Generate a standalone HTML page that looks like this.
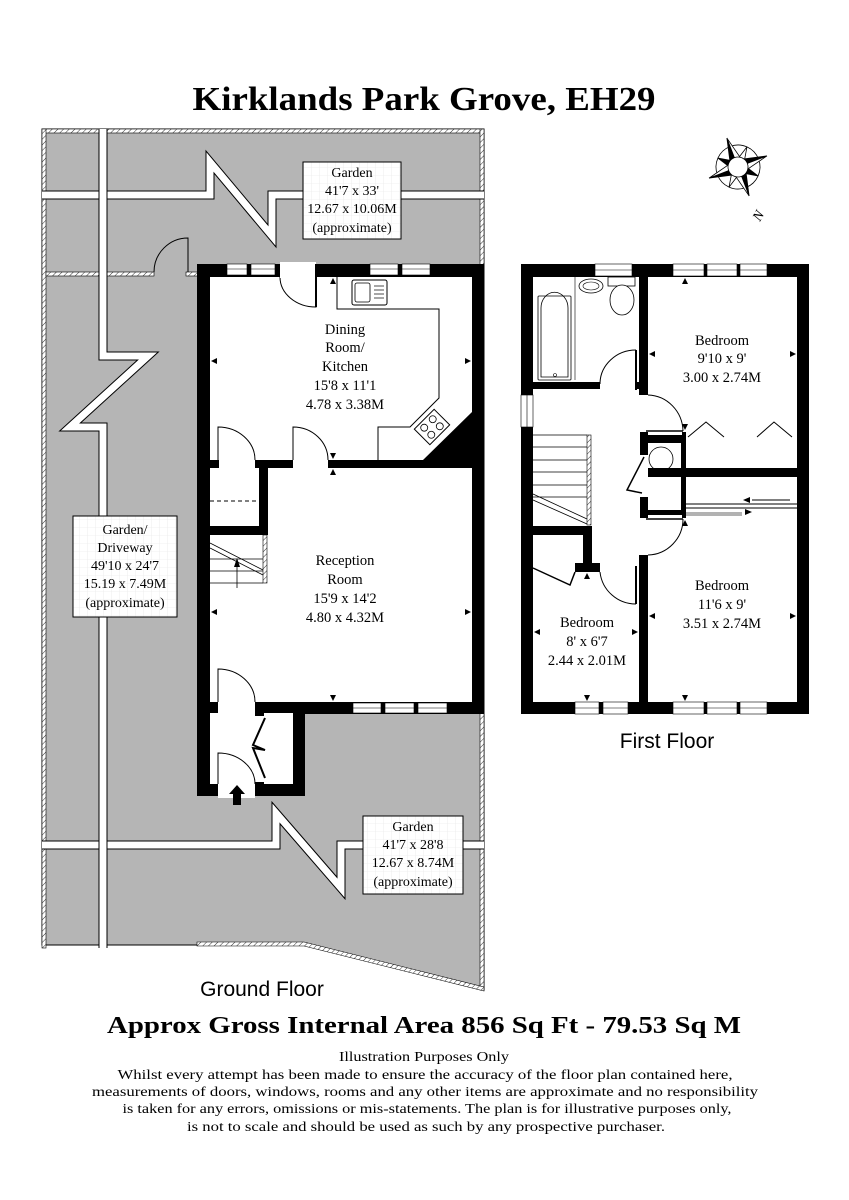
<!DOCTYPE html>
<html><head><meta charset="utf-8"><style>
html,body{margin:0;padding:0;background:#fff;}
svg{display:block;}
text{font-family:"Liberation Serif",serif;fill:#000;}
</style></head><body>
<svg width="849" height="1200" viewBox="0 0 849 1200" xmlns="http://www.w3.org/2000/svg">
<defs>
<pattern id="h" width="4" height="4" patternUnits="userSpaceOnUse" patternTransform="rotate(45)">
<rect width="4" height="4" fill="#fff"/><line x1="0" y1="0" x2="0" y2="4" stroke="#000" stroke-width="0.8"/></pattern>
<pattern id="g" width="8" height="8" patternUnits="userSpaceOnUse"><rect width="8" height="8" fill="#fff"/><path d="M8 0V8H0" fill="none" stroke="#e4e4e4" stroke-width="0.6"/></pattern>
</defs>
<rect width="849" height="1200" fill="#fff"/>
<text x="424" y="110" text-anchor="middle" font-size="34" font-weight="bold" textLength="463" lengthAdjust="spacingAndGlyphs">Kirklands Park Grove, EH29</text>

<!-- GROUND garden -->
<path d="M42 129H484V990L304 945H42Z" fill="#b5b5b5" stroke="#000" stroke-width="1"/>
<rect x="42" y="129" width="442" height="4" fill="url(#h)" stroke="#000" stroke-width="0.6"/>
<rect x="42" y="129" width="4" height="819" fill="url(#h)" stroke="#000" stroke-width="0.6"/>
<rect x="480" y="129" width="4" height="861" fill="url(#h)" stroke="#000" stroke-width="0.6"/>
<polygon points="197,942 304,942 484,987 484,991 304,946 197,946" fill="url(#h)" stroke="#000" stroke-width="0.6"/>
<rect x="46" y="272" width="108" height="4" fill="url(#h)" stroke="#000" stroke-width="0.6"/>
<rect x="186" y="272" width="12" height="4" fill="url(#h)" stroke="#000" stroke-width="0.6"/>
<path d="M188 272V238 A34 34 0 0 0 154 272" fill="none" stroke="#000" stroke-width="1"/>
<g fill="none" stroke-linejoin="miter">
<polyline points="42,195 210,195 210,162 272,236 272,195 484,195" stroke="#000" stroke-width="9"/>
<polyline points="42,195 210,195 210,162 272,236 272,195 484,195" stroke="#fff" stroke-width="7"/>
<polyline points="42,845 276,845 276,813 341,888 341,845 484,845" stroke="#000" stroke-width="9"/>
<polyline points="42,845 276,845 276,813 341,888 341,845 484,845" stroke="#fff" stroke-width="7"/>
<polyline points="103,129 103,356 148,356 70,427 103,427 103,948" stroke="#000" stroke-width="9"/>
<polyline points="103,129 103,356 148,356 70,427 103,427 103,948" stroke="#fff" stroke-width="7"/>
</g>

<!-- house ground floor -->
<rect x="197" y="264" width="287" height="450" fill="#000"/>
<rect x="197" y="713" width="108" height="83" fill="#000"/>
<rect x="210" y="277" width="262" height="183" fill="#fff"/>
<rect x="210" y="468" width="262" height="234" fill="#fff"/>
<rect x="219" y="458" width="36" height="12" fill="#fff"/>
<rect x="293" y="458" width="35" height="12" fill="#fff"/>
<rect x="259" y="468" width="9" height="65" fill="#000"/>
<rect x="210" y="526" width="58" height="9" fill="#000"/>
<line x1="210" y1="501" x2="259" y2="501" stroke="#000" stroke-dasharray="4,3"/>
<rect x="263" y="535" width="4" height="48" fill="url(#h)" stroke="#000" stroke-width="0.6"/>
<g stroke="#000" stroke-width="0.8">
<line x1="210" y1="559" x2="263" y2="559"/><line x1="210" y1="571" x2="263" y2="571"/><line x1="210" y1="583" x2="263" y2="583"/>
<line x1="210" y1="543" x2="263" y2="570"/><line x1="210" y1="548" x2="263" y2="575"/>
<line x1="237" y1="588" x2="237" y2="564"/></g>
<polygon points="234,567 240,567 237,558" fill="#000"/>
<rect x="210" y="713" width="42" height="71" fill="#fff"/>
<rect x="264" y="713" width="29" height="71" fill="#fff"/>
<rect x="218" y="700" width="37" height="16" fill="#fff"/>
<rect x="218" y="782" width="37" height="16" fill="#fff"/>
<rect x="250" y="716" width="16" height="66" fill="#fff"/>
<g fill="none" stroke="#000" stroke-width="1">
<path d="M218 702V669 A37 33 0 0 1 255 702"/>
<path d="M218 784V753 A37 31 0 0 1 255 784"/>
<polyline points="265,718 253,745 265,750 253,748 265,778" stroke-width="2"/>
<path d="M218 460V427 A37 33 0 0 1 255 460"/>
<path d="M293 460V427 A35 33 0 0 1 328 460"/>
<path d="M316 277V307 A36 30 0 0 1 280 277"/>
<polyline points="337,277 337,309 439,309 439,398 410,427 378,427 378,460"/>
</g>
<rect x="280" y="262" width="36" height="16" fill="#fff"/>
<line x1="316" y1="264" x2="316" y2="307" stroke="#000" stroke-width="2"/>
<polygon points="472,412 472,460 423,460" fill="#000"/>
<rect x="352" y="280" width="35" height="25" rx="2" fill="#fff" stroke="#000"/>
<rect x="355" y="283" width="15" height="19" rx="2" fill="none" stroke="#000" stroke-width="0.8"/>
<g stroke="#000" stroke-width="0.7"><line x1="374" y1="286" x2="384" y2="286"/><line x1="374" y1="290" x2="384" y2="290"/><line x1="374" y1="294" x2="384" y2="294"/><line x1="374" y1="298" x2="384" y2="298"/></g>
<g transform="translate(432,427) rotate(-45)"><rect x="-14" y="-11" width="28" height="22" fill="#fff" stroke="#000"/>
<circle cx="-6" cy="-5" r="3.5" fill="none" stroke="#000" stroke-width="0.8"/><circle cx="6" cy="-5" r="3.5" fill="none" stroke="#000" stroke-width="0.8"/><circle cx="-6" cy="5" r="3.5" fill="none" stroke="#000" stroke-width="0.8"/><circle cx="6" cy="5" r="3.5" fill="none" stroke="#000" stroke-width="0.8"/></g>
<g fill="#fff" stroke="#000" stroke-width="0.6">
<rect x="227" y="264" width="20" height="11"/><rect x="251" y="264" width="24" height="11"/>
<rect x="370" y="264" width="28" height="11"/><rect x="402" y="264" width="28" height="11"/>
<rect x="353" y="703" width="28" height="10"/><rect x="385" y="703" width="29" height="10"/><rect x="418" y="703" width="29" height="10"/>
</g>
<g stroke="#000" stroke-width="0.6"><line x1="227" y1="269" x2="275" y2="269"/><line x1="370" y1="269" x2="430" y2="269"/><line x1="353" y1="708" x2="447" y2="708"/></g>
<polygon points="237,785 245,794 241,794 241,805 233,805 233,794 229,794" fill="#000"/>
<g fill="#000"><polygon points="211,361 217,358 217,364"/><polygon points="471,361 465,358 465,364"/><polygon points="211,612 217,609 217,615"/><polygon points="471,612 465,609 465,615"/><polygon points="333,278 330,284 336,284"/><polygon points="333,459 330,453 336,453"/><polygon points="333,469 330,475 336,475"/><polygon points="333,701 330,695 336,695"/></g>

<g font-size="14.5" text-anchor="middle">
<text x="345" y="334">Dining</text><text x="345" y="352">Room/</text><text x="345" y="371">Kitchen</text><text x="345" y="390">15'8 x 11'1</text><text x="345" y="409">4.78 x 3.38M</text>
<text x="345" y="565">Reception</text><text x="345" y="584">Room</text><text x="345" y="603">15'9 x 14'2</text><text x="345" y="622">4.80 x 4.32M</text>
</g>
<rect x="303" y="162" width="98" height="77" fill="url(#g)" stroke="#000" stroke-width="1"/>
<rect x="73" y="516" width="104" height="101" fill="url(#g)" stroke="#000" stroke-width="1"/>
<rect x="363" y="816" width="100" height="78" fill="url(#g)" stroke="#000" stroke-width="1"/>
<g font-size="14" text-anchor="middle">
<text x="352" y="177">Garden</text><text x="352" y="195">41'7 x 33'</text><text x="352" y="213">12.67 x 10.06M</text><text x="352" y="232">(approximate)</text>
<text x="125" y="534">Garden/</text><text x="125" y="552">Driveway</text><text x="125" y="570">49'10 x 24'7</text><text x="125" y="588">15.19 x 7.49M</text><text x="125" y="607">(approximate)</text>
<text x="413" y="831">Garden</text><text x="413" y="849">41'7 x 28'8</text><text x="413" y="867">12.67 x 8.74M</text><text x="413" y="886">(approximate)</text>
</g>
<text x="262" y="996" font-size="21" text-anchor="middle" style="font-family:'Liberation Sans',sans-serif">Ground Floor</text>

<!-- FIRST FLOOR -->
<rect x="521" y="264" width="288" height="450" fill="#000"/>
<rect x="533" y="277" width="106" height="105" fill="#fff"/>
<rect x="533" y="389" width="106" height="137" fill="#fff"/>
<rect x="600" y="380" width="36" height="12" fill="#fff"/>
<rect x="648" y="277" width="149" height="191" fill="#fff"/>
<rect x="686" y="477" width="111" height="225" fill="#fff"/>
<rect x="648" y="518" width="38" height="184" fill="#fff"/>
<rect x="592" y="389" width="47" height="313" fill="#fff"/>
<rect x="533" y="535" width="50" height="167" fill="#fff"/>
<rect x="583" y="572" width="56" height="130" fill="#fff"/>
<rect x="600" y="560" width="39" height="14" fill="#fff"/>
<rect x="639" y="395" width="10" height="160" fill="#fff"/>
<rect x="640" y="432" width="46" height="86" fill="#000"/>
<rect x="648" y="443" width="33" height="67" fill="#fff"/>
<rect x="638" y="455" width="12" height="42" fill="#fff"/>
<circle cx="661" cy="459" r="12" fill="none" stroke="#000" stroke-width="0.8"/>
<polyline points="644,457 627,490 642,493" fill="none" stroke="#000" stroke-width="1.5"/>
<rect x="648" y="468" width="149" height="9" fill="#000"/>
<rect x="648" y="432" width="34" height="3" fill="#fff"/>
<rect x="648" y="515" width="34" height="3" fill="#fff"/>
<line x1="646" y1="431" x2="683" y2="431" stroke="#000" stroke-width="1.5"/>
<line x1="646" y1="519" x2="683" y2="519" stroke="#000" stroke-width="1.5"/>
<rect x="521" y="395" width="12" height="32" fill="#fff" stroke="#000" stroke-width="0.6"/>
<line x1="527" y1="395" x2="527" y2="427" stroke="#000" stroke-width="0.6"/>
<rect x="587" y="435" width="4" height="90" fill="url(#h)" stroke="#000" stroke-width="0.6"/>
<g stroke="#000" stroke-width="0.8">
<line x1="533" y1="435" x2="587" y2="435"/><line x1="533" y1="447" x2="587" y2="447"/><line x1="533" y1="460" x2="587" y2="460"/><line x1="533" y1="472" x2="587" y2="472"/><line x1="533" y1="485" x2="587" y2="485"/><line x1="533" y1="497" x2="587" y2="497"/>
<line x1="533" y1="494" x2="587" y2="519"/><line x1="533" y1="500" x2="587" y2="524"/></g>
<rect x="533" y="526" width="57" height="9" fill="#000"/>
<rect x="583" y="526" width="9" height="46" fill="#000"/>
<rect x="575" y="563" width="25" height="9" fill="#000"/>
<polyline points="533,568 570,585 575,572" fill="none" stroke="#000" stroke-width="1.5"/>
<g fill="none" stroke="#000" stroke-width="1">
<path d="M600 384 A36 34 0 0 1 636 350"/>
<path d="M648 395 A36 37 0 0 1 683 431"/>
<path d="M683 519 A36 36 0 0 1 648 555"/>
<path d="M600 572 A36 36 0 0 0 636 604"/>
<polyline points="688,437 706,422 724,437"/><polyline points="757,437 774,422 792,437"/>
<line x1="686" y1="504" x2="797" y2="504"/><line x1="686" y1="508" x2="797" y2="508"/>
<line x1="686" y1="513" x2="742" y2="513" stroke="#666"/><line x1="686" y1="515" x2="742" y2="515" stroke="#666"/>
<line x1="752" y1="500" x2="790" y2="500"/>
</g>
<line x1="636" y1="350" x2="636" y2="390" stroke="#000" stroke-width="2"/>
<line x1="636" y1="566" x2="636" y2="604" stroke="#000" stroke-width="2"/>
<polygon points="743,500 750,497 750,503" fill="#000"/><polygon points="752,512 745,509 745,515" fill="#000"/>
<rect x="538" y="296" width="33" height="84" rx="1" fill="#fff" stroke="#000" stroke-width="0.8"/>
<path d="M541 377V308 A12 14 0 0 1 568 308V377Z" fill="none" stroke="#000" stroke-width="0.8"/>
<circle cx="555" cy="375" r="1.5" fill="none" stroke="#000" stroke-width="0.6"/>
<line x1="575" y1="277" x2="575" y2="380" stroke="#000" stroke-width="0.6"/>
<ellipse cx="591" cy="286" rx="12" ry="7" fill="#fff" stroke="#000" stroke-width="0.8"/>
<ellipse cx="591" cy="286" rx="8" ry="4" fill="none" stroke="#000" stroke-width="0.6"/>
<rect x="608" y="277" width="27" height="9" fill="#fff" stroke="#000" stroke-width="0.8"/>
<ellipse cx="622" cy="300" rx="12" ry="15" fill="#fff" stroke="#000" stroke-width="0.8"/>
<g fill="#fff" stroke="#000" stroke-width="0.6">
<rect x="595" y="264" width="37" height="12"/>
<rect x="673" y="264" width="31" height="12"/><rect x="707" y="264" width="30" height="12"/><rect x="740" y="264" width="27" height="12"/>
<rect x="575" y="702" width="24" height="12"/><rect x="603" y="702" width="25" height="12"/>
<rect x="673" y="702" width="31" height="12"/><rect x="707" y="702" width="30" height="12"/><rect x="740" y="702" width="27" height="12"/>
</g>
<g stroke="#000" stroke-width="0.6"><line x1="595" y1="270" x2="632" y2="270"/><line x1="673" y1="270" x2="767" y2="270"/><line x1="575" y1="708" x2="628" y2="708"/><line x1="673" y1="708" x2="767" y2="708"/></g>
<g fill="#000"><polygon points="649,354 655,351 655,357"/><polygon points="796,354 790,351 790,357"/><polygon points="685,278 682,284 688,284"/><polygon points="685,430 682,424 688,424"/>
<polygon points="649,616 655,613 655,619"/><polygon points="796,616 790,613 790,619"/><polygon points="685,520 682,526 688,526"/><polygon points="685,701 682,695 688,695"/>
<polygon points="534,632 540,629 540,635"/><polygon points="638,632 632,629 632,635"/><polygon points="587,573 584,579 590,579"/><polygon points="587,701 584,695 590,695"/></g>
<g font-size="14.5" text-anchor="middle">
<text x="722" y="345">Bedroom</text><text x="722" y="363">9'10 x 9'</text><text x="722" y="382">3.00 x 2.74M</text>
<text x="722" y="590">Bedroom</text><text x="722" y="609">11'6 x 9'</text><text x="722" y="628">3.51 x 2.74M</text>
<text x="587" y="627">Bedroom</text><text x="587" y="646">8' x 6'7</text><text x="587" y="665">2.44 x 2.01M</text>
</g>
<text x="667" y="748" font-size="21" text-anchor="middle" style="font-family:'Liberation Sans',sans-serif">First Floor</text>

<!-- compass -->
<g transform="translate(738,167) rotate(-21)" stroke="#000" stroke-width="0.8" stroke-linejoin="miter">
<circle r="22" fill="none"/>
<polygon points="0,-6 15.6,-15.6 6,0" fill="#fff"/>
<polygon points="6,0 15.6,15.6 0,6" fill="#000"/>
<polygon points="0,6 -15.6,15.6 -6,0" fill="#fff"/>
<polygon points="-6,0 -15.6,-15.6 0,-6" fill="#000"/>
<polygon points="0,0 0,-31 -6,-6" fill="#000"/><polygon points="0,0 0,-31 6,-6" fill="#fff"/>
<polygon points="0,0 31,0 6,-6" fill="#000"/><polygon points="0,0 31,0 6,6" fill="#fff"/>
<polygon points="0,0 0,31 6,6" fill="#000"/><polygon points="0,0 0,31 -6,6" fill="#fff"/>
<polygon points="0,0 -31,0 -6,6" fill="#000"/><polygon points="0,0 -31,0 -6,-6" fill="#fff"/>
<circle r="10" fill="#fff"/>
</g>
<text x="757" y="221" font-size="14" font-style="italic" transform="rotate(-60 757 215)" text-anchor="middle">N</text>

<text x="424" y="1033" text-anchor="middle" font-size="24" font-weight="bold" textLength="634" lengthAdjust="spacingAndGlyphs">Approx Gross Internal Area  856 Sq Ft  - 79.53 Sq M</text>
<g font-size="14" text-anchor="middle">
<text x="424" y="1061" textLength="170" lengthAdjust="spacingAndGlyphs">Illustration Purposes Only</text>
<text x="425" y="1079" textLength="615" lengthAdjust="spacingAndGlyphs">Whilst every attempt has been made to ensure the accuracy of the floor plan contained here,</text>
<text x="425" y="1096" textLength="666" lengthAdjust="spacingAndGlyphs">measurements of doors, windows, rooms and any other items are approximate and no responsibility</text>
<text x="427" y="1113" textLength="609" lengthAdjust="spacingAndGlyphs">is taken for any errors, omissions or mis-statements. The plan is for illustrative purposes only,</text>
<text x="426" y="1131" textLength="478" lengthAdjust="spacingAndGlyphs">is not to scale and should be used as such by any prospective purchaser.</text>
</g>
</svg>
</body></html>
